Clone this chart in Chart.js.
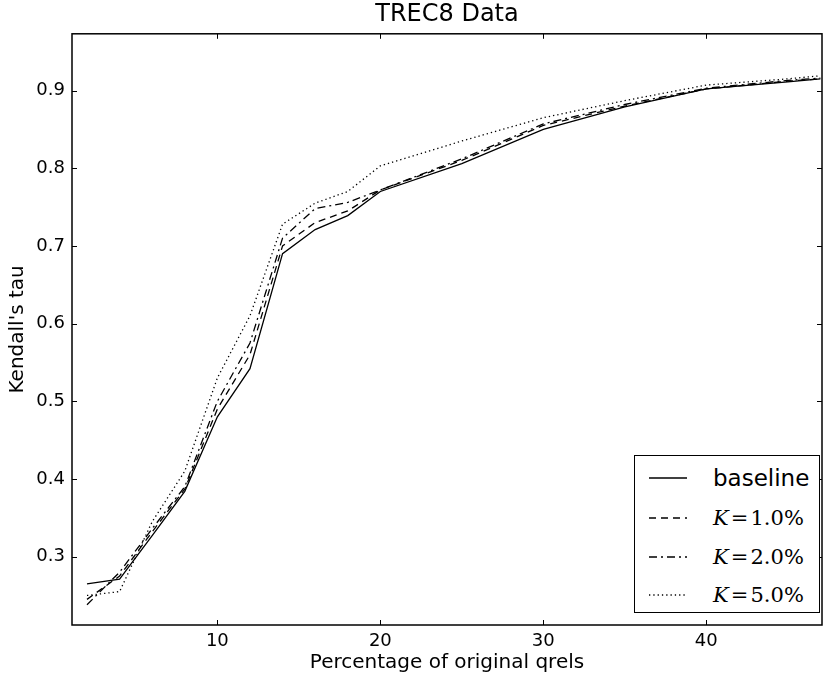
<!DOCTYPE html>
<html>
<head>
<meta charset="utf-8">
<script src="https://cdn.jsdelivr.net/npm/chart.js@4"></script>
<style>
    body { margin: 0; background: #fff; }
    .wrap { position: relative; width: 823px; height: 678px; }
    .legend {
        position: absolute; left: 634px; top: 455px; width: 184px; height: 156px;
        border: 1.5px solid #000; background: #fff; font-family: "DejaVu Sans", sans-serif;
    }
    .legend .row { position: absolute; left: 0; height: 30px; width: 100%; }
    .legend svg { position: absolute; left: 14px; top: 10px; }
    .legend .lbl { position: absolute; left: 78px; top: 0; font-size: 23px; line-height: 30px; color: #000; }
    .legend .math { font-family: "DejaVu Serif", serif; font-size: 21px; }
    .legend .math i { font-style: italic; }
</style>
</head>
<body>
<div class="wrap">
    <canvas id="chart" width="823" height="678"></canvas>
    <div class="legend">
        <div class="row" style="top:7px"><svg width="40" height="10"><line x1="0" y1="5" x2="38" y2="5" stroke="#000" stroke-width="1.3"/></svg><span class="lbl">baseline</span></div>
        <div class="row" style="top:47px"><svg width="40" height="10"><line x1="0" y1="5" x2="38" y2="5" stroke="#000" stroke-width="1.3" stroke-dasharray="7,5"/></svg><span class="lbl math"><i>K</i>&#8202;=&#8202;1.0%</span></div>
        <div class="row" style="top:86px"><svg width="40" height="10"><line x1="0" y1="5" x2="38" y2="5" stroke="#000" stroke-width="1.3" stroke-dasharray="8,4,2,4"/></svg><span class="lbl math"><i>K</i>&#8202;=&#8202;2.0%</span></div>
        <div class="row" style="top:124px"><svg width="40" height="10"><line x1="0" y1="5" x2="38" y2="5" stroke="#000" stroke-width="1.3" stroke-dasharray="1.3,3"/></svg><span class="lbl math"><i>K</i>&#8202;=&#8202;5.0%</span></div>
    </div>
</div>
<script>
// data
const percents = [2, 4, 6, 8, 10, 12, 14, 16, 18, 20, 25, 30, 35, 40, 45, 47];
const baseline = [0.265, 0.271, 0.327, 0.384, 0.480, 0.542, 0.690, 0.721, 0.739, 0.770, 0.806, 0.850, 0.879, 0.902, 0.911, 0.915];
const k1 = [0.245, 0.275, 0.332, 0.387, 0.490, 0.560, 0.700, 0.730, 0.745, 0.772, 0.810, 0.855, 0.880, 0.902, 0.912, 0.915];
const k2 = [0.238, 0.280, 0.336, 0.390, 0.500, 0.575, 0.710, 0.748, 0.756, 0.772, 0.812, 0.857, 0.882, 0.903, 0.913, 0.916];
const k5 = [0.250, 0.255, 0.345, 0.410, 0.530, 0.610, 0.728, 0.755, 0.770, 0.803, 0.835, 0.865, 0.887, 0.907, 0.915, 0.919];
const xTicks = [10, 20, 30, 40];
const yTicks = [0.3, 0.4, 0.5, 0.6, 0.7, 0.8, 0.9];

function pts(values) {
    return percents.map((p, i) => ({ x: p, y: values[i] }));
}

// frame and inward ticks, matplotlib style
const framePlugin = {
    id: 'frame',
    afterDraw(chart) {
        const ctx = chart.ctx;
        const a = chart.chartArea;
        const xs = chart.scales.x, ys = chart.scales.y;
        ctx.save();
        ctx.strokeStyle = '#000';
        ctx.lineWidth = 1;
        xTicks.forEach(v => {
            const px = Math.round(xs.getPixelForValue(v)) + 0.5;
            ctx.beginPath();
            ctx.moveTo(px, a.bottom); ctx.lineTo(px, a.bottom - 5);
            ctx.moveTo(px, a.top); ctx.lineTo(px, a.top + 5);
            ctx.stroke();
        });
        yTicks.forEach(v => {
            const py = Math.round(ys.getPixelForValue(v)) + 0.5;
            ctx.beginPath();
            ctx.moveTo(a.left, py); ctx.lineTo(a.left + 5, py);
            ctx.moveTo(a.right, py); ctx.lineTo(a.right - 5, py);
            ctx.stroke();
        });
        ctx.lineWidth = 1.5;
        ctx.strokeRect(a.left, a.top, a.right - a.left, a.bottom - a.top);
        ctx.restore();
    }
};

const lineStyle = { borderColor: '#000', borderWidth: 1.3, pointRadius: 0, tension: 0, fill: false };

new Chart(document.getElementById('chart').getContext('2d'), {
    type: 'line',
    data: {
        datasets: [
            { label: 'baseline', data: pts(baseline), ...lineStyle },
            { label: 'K=1.0%', data: pts(k1), ...lineStyle, borderDash: [7, 5] },
            { label: 'K=2.0%', data: pts(k2), ...lineStyle, borderDash: [8, 4, 2, 4] },
            { label: 'K=5.0%', data: pts(k5), ...lineStyle, borderDash: [1.3, 3] }
        ]
    },
    options: {
        responsive: false,
        animation: false,
        layout: { padding: { left: 0, right: 1, top: 0, bottom: 0 } },
        plugins: {
            legend: { display: false },
            tooltip: { enabled: false },
            title: {
                display: true,
                fullSize: false,
                text: 'TREC8 Data',
                color: '#000',
                font: { family: 'DejaVu Sans', size: 24, weight: 'normal' },
                padding: { top: 0, bottom: 5 }
            }
        },
        scales: {
            x: {
                type: 'linear',
                min: 1.08,
                max: 47.1,
                afterBuildTicks: s => { s.ticks = xTicks.map(v => ({ value: v })); },
                afterFit: s => { s.height = 53; },
                grid: { display: false, drawTicks: false },
                border: { display: false },
                ticks: { color: '#000', padding: 6, font: { family: 'DejaVu Sans', size: 18 } },
                title: {
                    display: true,
                    text: 'Percentage of original qrels',
                    color: '#000',
                    font: { family: 'DejaVu Sans', size: 20 },
                    padding: { top: 0, bottom: 3 }
                }
            },
            y: {
                min: 0.212,
                max: 0.973,
                afterBuildTicks: s => { s.ticks = yTicks.map(v => ({ value: v })); },
                afterFit: s => { s.width = 72; },
                grid: { display: false, drawTicks: false },
                border: { display: false },
                ticks: {
                    color: '#000', padding: 7,
                    font: { family: 'DejaVu Sans', size: 18 },
                    callback: v => v.toFixed(1)
                },
                title: {
                    display: true,
                    text: "Kendall's tau",
                    color: '#000',
                    font: { family: 'DejaVu Sans', size: 20 },
                    padding: { top: 6, bottom: 0 }
                }
            }
        }
    },
    plugins: [framePlugin]
});
</script>
</body>
</html>
